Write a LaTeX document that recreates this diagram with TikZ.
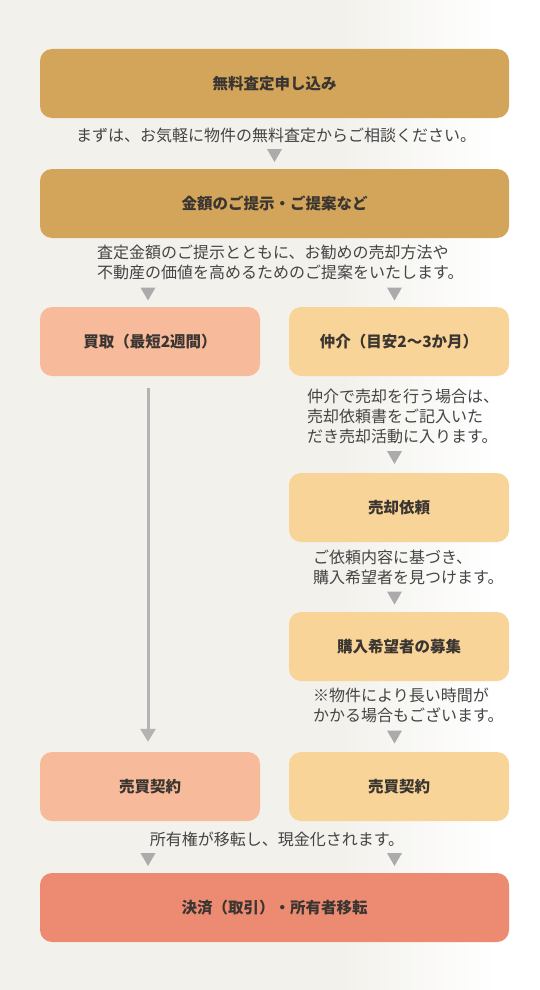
\documentclass[tikz,border=0pt]{standalone}
\usepackage{fontspec}
\setmainfont{Noto Sans CJK JP}
\usepackage{xcolor}
\usetikzlibrary{arrows.meta, positioning}

\definecolor{bggray}{HTML}{F2F1EC}
\definecolor{boxgold}{HTML}{D3A55A}
\definecolor{boxsalmon}{HTML}{F7BA9B}
\definecolor{boxcream}{HTML}{F8D498}
\definecolor{boxcoral}{HTML}{EC8A72}
\definecolor{labeltext}{HTML}{3A3530}
\definecolor{notetext}{HTML}{444444}
\definecolor{arrowgray}{HTML}{ABABAB}
\definecolor{linegray}{HTML}{B3B3B3}

\begin{document}
\begin{tikzpicture}[
  x=1pt, y=-1pt,
  flowbox/.style={rectangle, rounded corners=12pt, minimum height=69pt, inner sep=0pt,
                  font=\bfseries\fontsize{15.5}{18}\selectfont, text=labeltext},
  widebox/.style={flowbox, minimum width=469pt},
  halfbox/.style={flowbox, minimum width=220pt},
  note/.style={font=\fontsize{16}{20}\selectfont, text=notetext, inner sep=0pt, align=left},
  longline/.style={draw=linegray, line width=3pt, -{Triangle[width=15pt,length=13pt]},
                   shorten <=12pt, shorten >=10pt},
  tri/.pic={\fill[arrowgray] (-7.5,-6.5) -- (7.5,-6.5) -- (0,6.5) -- cycle;},
]
  % background
  \useasboundingbox (0,0) rectangle (540,990);
  \fill[bggray] (0,0) rectangle (340,990);
  \shade[left color=bggray, right color=white] (340,0) rectangle (495,990);
  \fill[white] (495,0) rectangle (540,990);

  % boxes
  \node[widebox, fill=boxgold] (apply) at (274.5,83.5) {無料査定申し込み};
  \node[widebox, fill=boxgold] (offer) at (274.5,203.5) {金額のご提示・ご提案など};
  \node[halfbox, fill=boxsalmon] (buy) at (150,341.5) {買取（最短2週間）};
  \node[halfbox, fill=boxcream] (broker) at (399,341.5) {仲介（目安2〜3か月）};
  \node[halfbox, fill=boxcream] (request) at (399,507.5) {売却依頼};
  \node[halfbox, fill=boxcream] (recruit) at (399,646.5) {購入希望者の募集};
  \node[halfbox, fill=boxsalmon] (buycontract) at (150,786.5) {売買契約};
  \node[halfbox, fill=boxcream] (brokercontract) at (399,786.5) {売買契約};
  \node[widebox, fill=boxcoral] (settle) at (274.5,907.5) {決済（取引）・所有者移転};

  % notes
  \node[note] (applynote) at (276,135) {まずは、お気軽に物件の無料査定からご相談ください。};
  \node[note, anchor=west] (offernote) at (97,262.5) {査定金額のご提示とともに、お勧めの売却方法や\\不動産の価値を高めるためのご提案をいたします。};
  \node[note, anchor=west] (brokernote) at (307,416) {仲介で売却を行う場合は、\\売却依頼書をご記入いた\\だき売却活動に入ります。};
  \node[note, anchor=west] (requestnote) at (313,567) {ご依頼内容に基づき、\\購入希望者を見つけます。};
  \node[note, anchor=west] (recruitnote) at (313,705.5) {※物件により長い時間が\\かかる場合もございます。};
  \node[note] (contractnote) at (277,839) {所有権が移転し、現金化されます。};

  % arrows
  \pic at (274.5,155.5) {tri};
  \pic at (148,294) {tri};
  \pic at (394.5,294) {tri};
  \pic at (394.5,457.5) {tri};
  \pic at (394.5,598) {tri};
  \pic at (394.5,737) {tri};
  \pic at (148,859.5) {tri};
  \pic at (394.5,859.5) {tri};

  \draw[longline] ([xshift=-2pt]buy.south) -- ([xshift=-2pt]buycontract.north);
\end{tikzpicture}
\end{document}
